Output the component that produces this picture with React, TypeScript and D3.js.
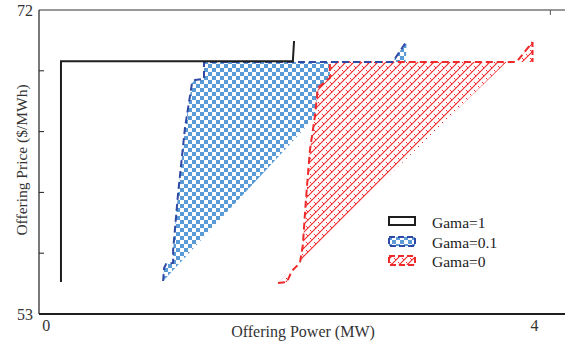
import React from 'react';
import * as d3 from 'd3';

const W = 565;
const H = 344;

// Axis domains and ticks
const xDomain = [-0.06, 4.25];
const yDomain = [53, 72];
const xTickValues = [0, 4];
const yTickLabelValues = [53, 72];
const yInnerTicks = [56.8, 60.6, 64.4, 68.2];
const topTicks = [4.13];

// Gama = 1 offering curve
const gama1Power = [0.12, 0.12, 2.02, 2.03];
const gama1Price = [55.0, 68.8, 68.8, 70.06];

// Gama = 0.1 offering curve (left boundary of its band) and band's right edge
const gama01Power = [0.957, 0.965, 0.982, 1.039, 1.039, 1.08, 1.137, 1.194, 1.219, 1.292, 1.292, 2.838, 2.953];
const gama01Price = [55.06, 55.88, 56.13, 56.19, 57.0, 60.56, 64.69, 67.44, 67.63, 67.69, 68.75, 68.75, 70.06];
const gama01EdgePower = [2.945, 2.62, 0.957];
const gama01EdgePrice = [68.75, 68.75, 55.06];

// Gama = 0 offering curve, band's right edge and end tip
const gama0Power = [1.898, 1.971, 2.012, 2.078, 2.102, 2.127, 2.16, 2.2, 2.225, 2.323, 2.323, 3.771];
const gama0Price = [54.94, 55.0, 55.69, 56.19, 57.31, 60.13, 63.25, 65.31, 67.13, 67.75, 68.75, 68.75];
const gama0EdgePower = [1.898];
const gama0EdgePrice = [54.94];
const gama0TipPower = [3.853, 3.984, 3.984];
const gama0TipPrice = [68.75, 70.0, 68.75];

const legendLabels = ['Gama=1', 'Gama=0.1', 'Gama=0'];

const FONT = '"Liberation Serif", "Times New Roman", serif';
const BLUE_FILL = '#5b9bd5';
const BLUE_LINE = '#2e4aa6';
const RED = '#ee2a2a';
const BLACK = '#1e1e1e';

const zip = (xs: number[], ys: number[]) => xs.map((x, i) => [x, ys[i]] as [number, number]);

export default function App() {
  const x = d3.scaleLinear().domain(xDomain).range([39, 565]);
  const y = d3.scaleLinear().domain(yDomain).range([314, 10]);
  const line = d3.line<[number, number]>().x(d => x(d[0])).y(d => y(d[1]));

  const g1 = zip(gama1Power, gama1Price);
  const g01 = zip(gama01Power, gama01Price);
  const g01Band = g01.concat(zip(gama01EdgePower, gama01EdgePrice));
  const g0 = zip(gama0Power, gama0Price);
  const g0Band = g0.concat(zip(gama0EdgePower, gama0EdgePrice));
  const g0Tip = zip(gama0TipPower, gama0TipPrice);
  const g0Line = g0.concat(g0Tip.slice(0, 2));

  const legendY = [221, 241, 260];

  return (
    <svg width={W} height={H} style={{ position: 'absolute', left: 0, top: 0, background: '#fff' }}>
      <defs>
        <pattern id="checker" width={8} height={8} patternUnits="userSpaceOnUse">
          <rect width={8} height={8} fill="#fff" />
          <rect x={0} y={0} width={4} height={4} fill={BLUE_FILL} />
          <rect x={4} y={4} width={4} height={4} fill={BLUE_FILL} />
        </pattern>
        <pattern id="hatch" width={8} height={8} patternUnits="userSpaceOnUse">
          <rect width={8} height={8} fill="#fff" />
          <path d="M-1,9 L9,-1 M-1,1 L1,-1 M7,9 L9,7" stroke={RED} strokeWidth={1.1} fill="none" />
          <path d="M2,2 L4,4 M6,6 L7.5,7.5" stroke={RED} strokeWidth={1} fill="none" />
        </pattern>
      </defs>

      {/* bands */}
      <path d={line(g01Band)! + 'Z'} fill="url(#checker)" />
      <path d={line(g0Band)! + 'Z'} fill="url(#hatch)" />
      <path d={line(g0Tip)! + 'Z'} fill="url(#hatch)" />

      {/* curves */}
      <path d={line(g0Line)!} fill="none" stroke={RED} strokeWidth={2} strokeDasharray="7 4" />
      <path d={line(g0Tip.slice(1))!} fill="none" stroke={RED} strokeWidth={2} strokeDasharray="5 3" />
      <path d={line(g01)!} fill="none" stroke={BLUE_LINE} strokeWidth={2} strokeDasharray="7 4" />
      <path d={line(g1)!} fill="none" stroke={BLACK} strokeWidth={2} />

      {/* frame */}
      <line x1={39} x2={565} y1={10} y2={10} stroke="#333" strokeWidth={1} />
      <line x1={39} x2={39} y1={10} y2={314} stroke={BLACK} strokeWidth={1.2} />
      <line x1={39} x2={565} y1={314} y2={314} stroke={BLACK} strokeWidth={2} />
      {yInnerTicks.map(v => (
        <line key={v} x1={39} x2={44} y1={y(v)} y2={y(v)} stroke={BLACK} strokeWidth={1} />
      ))}
      {topTicks.map(v => (
        <line key={v} x1={x(v)} x2={x(v)} y1={10} y2={15} stroke="#555" strokeWidth={1} />
      ))}

      {/* tick labels */}
      {yTickLabelValues.map(v => (
        <text key={v} x={33} y={y(v) + 6} textAnchor="end" fontFamily={FONT} fontSize={16} fill="#333">
          {v}
        </text>
      ))}
      {xTickValues.map(v => (
        <text key={v} x={x(v)} y={331} textAnchor="middle" fontFamily={FONT} fontSize={16} fill="#333">
          {v}
        </text>
      ))}

      {/* axis titles */}
      <text x={303} y={337} textAnchor="middle" fontFamily={FONT} fontSize={16} fill="#333">
        Offering Power (MW)
      </text>
      <text
        transform={`translate(27,160) rotate(-90)`}
        textAnchor="middle"
        fontFamily={FONT}
        fontSize={15.5}
        fill="#333"
      >
        Offering Price ($/MWh)
      </text>

      {/* legend */}
      <rect x={389} y={legendY[0] - 4} width={26} height={8} fill="#fff" stroke={BLACK} strokeWidth={2} />
      <rect x={389} y={legendY[1] - 4} width={26} height={9} fill="url(#checker)" stroke={BLUE_LINE} strokeWidth={2} strokeDasharray="6 3" />
      <rect x={389} y={legendY[2] - 4} width={26} height={9} fill="url(#hatch)" stroke={RED} strokeWidth={2} strokeDasharray="6 3" />
      {legendLabels.map((t, i) => (
        <text key={t} x={432} y={legendY[i] + 7} fontFamily={FONT} fontSize={15.5} fill="#222">
          {t}
        </text>
      ))}
    </svg>
  );
}
